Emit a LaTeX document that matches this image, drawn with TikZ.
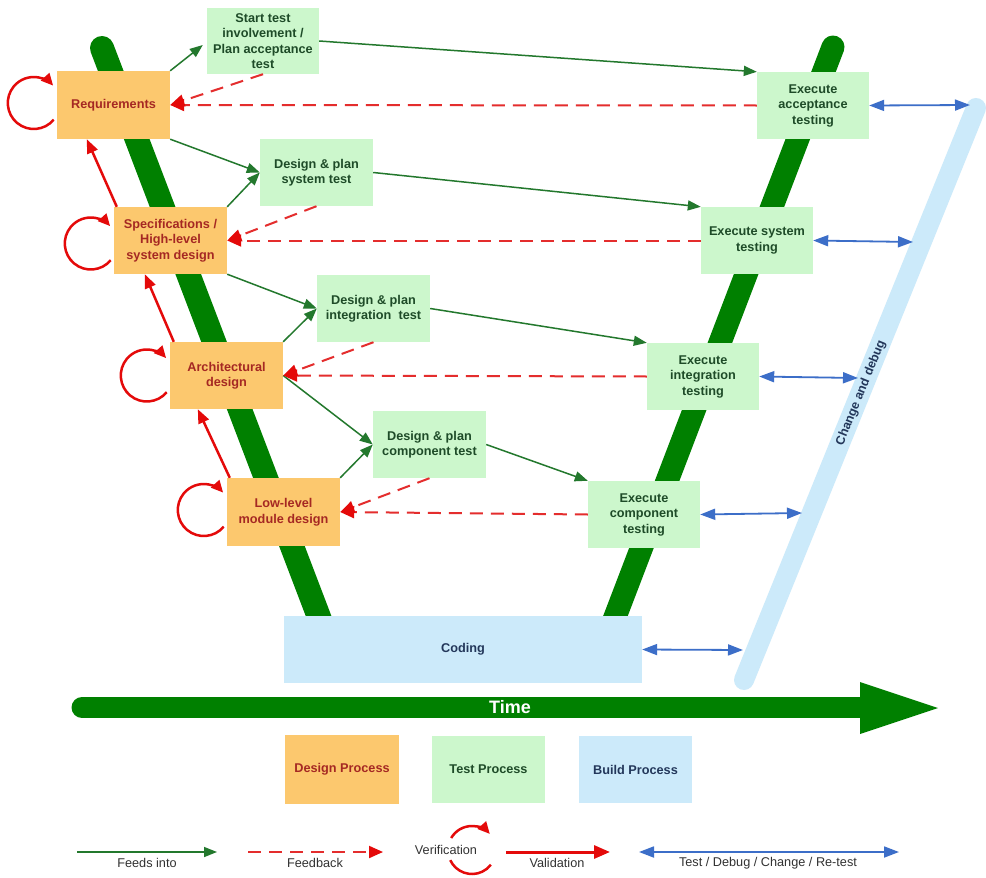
\documentclass[tikz,border=0pt]{standalone}
\usepackage{fontspec}
\setmainfont{Liberation Sans}
\usetikzlibrary{arrows.meta}
\definecolor{dfill}{RGB}{252,200,110}
\definecolor{dtext}{RGB}{165,40,35}
\definecolor{tfill}{RGB}{204,247,204}
\definecolor{ttext}{RGB}{30,75,40}
\definecolor{bfill}{RGB}{204,234,250}
\definecolor{btext}{RGB}{35,55,90}
\definecolor{vgreen}{RGB}{0,128,0}
\definecolor{agreen}{RGB}{35,120,45}
\definecolor{fbred}{RGB}{228,45,45}
\definecolor{vred}{RGB}{228,10,10}
\definecolor{ablue}{RGB}{60,110,200}
\definecolor{lgray}{RGB}{50,50,50}
\begin{document}
\begin{tikzpicture}[x=1pt,y=-1pt,
  box/.style={minimum width=113pt,minimum height=67pt,inner sep=0pt,align=center,
    font=\fontsize{12.7}{15.5}\selectfont\bfseries},
  dbox/.style={box,fill=dfill,text=dtext},
  tbox/.style={box,fill=tfill,text=ttext},
  bbox/.style={box,fill=bfill,text=btext},
  feed/.style={draw=agreen,line width=1.5pt,-{Triangle[length=13pt,width=10pt]}},
  fb/.style={draw=fbred,line width=2pt,dash pattern=on 13pt off 8pt,-{Triangle[length=14pt,width=12pt,color=vred,fill=vred]}},
  valid/.style={draw=vred,line width=2.5pt,-{Triangle[length=14pt,width=11pt]}},
  verif/.style={draw=vred,line width=2.5pt,-{Triangle[length=12pt,width=11pt]}},
  tdbg/.style={draw=ablue,line width=1.8pt,{Triangle[length=15pt,width=11pt]}-{Triangle[length=15pt,width=11pt]}},
  leglab/.style={text=lgray,font=\fontsize{12.7}{14}\selectfont,inner sep=0pt}
]
\useasboundingbox (0,0) rectangle (986,878);
\fill[white] (0,0) rectangle (986,878);

% V arms and change bar
\draw[vgreen,line width=24pt,line cap=round] (102,48) -- (322,625);
\draw[vgreen,line width=23pt,line cap=round] (833,47) -- (612,625);
\draw[bfill,line width=20pt,line cap=round] (976,108) -- (744,680);
\node[rotate=67.9,text=btext,font=\fontsize{12.5}{14}\selectfont\bfseries,inner sep=0pt] (cdtxt) at (861,393) {Change and debug};

% Time arrow
\draw[vgreen,line width=21pt,line cap=round] (82,707.5) -- (865,707.5);
\fill[vgreen] (860,682) -- (938,708) -- (860,734) -- cycle;
\node[text=white,font=\fontsize{18}{20}\selectfont\bfseries] (time) at (510,707) {Time};

% Design boxes
\node[dbox,minimum height=68pt] (req) at (113.5,105) {Requirements};
\node[dbox] (spec) at (170.5,240.5) {Specifications /\\High-level\\system design};
\node[dbox] (arch) at (226.5,375.5) {Architectural\\design};
\node[dbox,minimum height=68pt] (low) at (283.5,512) {Low-level\\module design};

% Test planning boxes
\node[tbox,minimum width=112pt,minimum height=66pt] (start) at (263,41) {Start test\\involvement /\\Plan acceptance\\test};
\node[tbox] (dsys) at (316.5,172.5) {Design \& plan\\system test};
\node[tbox] (dint) at (373.5,308.5) {Design \& plan\\integration\ \ test};
\node[tbox] (dcomp) at (429.5,444.5) {Design \& plan\\component test};

% Execute boxes
\node[tbox,minimum width=112pt] (eacc) at (813,105.5) {Execute\\acceptance\\testing};
\node[tbox,minimum width=112pt] (esys) at (757,240.5) {Execute system\\testing};
\node[tbox,minimum width=112pt] (eint) at (703,376.5) {Execute\\integration\\testing};
\node[tbox,minimum width=112pt] (ecomp) at (644,514.5) {Execute\\component\\testing};

% Coding
\node[bbox,minimum width=358pt] (coding) at (463,649.5) {Coding};

% Feeds into
\draw[feed] (req.north east) -- ([xshift=-4pt,yshift=-4pt]start.west);
\draw[feed] (start.east) -- (eacc.north west);
\draw[feed] (req.south east) -- (dsys.west);
\draw[feed] (spec.north east) -- (dsys.west);
\draw[feed] (dsys.east) -- (esys.north west);
\draw[feed] (spec.south east) -- (dint.west);
\draw[feed] (arch.north east) -- (dint.west);
\draw[feed] (dint.east) -- (eint.north west);
\draw[feed] (arch.east) -- (dcomp.west);
\draw[feed] (low.north east) -- (dcomp.west);
\draw[feed] (dcomp.east) -- (ecomp.north west);

% Feedback
\draw[fb] (eacc.west) -- (req.east);
\draw[fb] (start.south) -- (req.east);
\draw[fb] (esys.west) -- (spec.east);
\draw[fb] (dsys.south) -- (spec.east);
\draw[fb] (eint.west) -- (arch.east);
\draw[fb] (dint.south) -- (arch.east);
\draw[fb] (ecomp.west) -- (low.east);
\draw[fb] (dcomp.south) -- (low.east);

% Validation
\draw[valid] ([xshift=3pt]spec.north west) -- ([xshift=30pt]req.south west);
\draw[valid] ([xshift=4pt]arch.north west) -- ([xshift=31pt]spec.south west);
\draw[valid] ([xshift=3pt]low.north west) -- ([xshift=28pt]arch.south west);

% Verification loops
\draw[verif] ([xshift=-23pt,yshift=2pt]req.west) ++(-40:26pt) arc[start angle=-40,end angle=-318,radius=26pt];
\draw[verif] ([xshift=-23pt,yshift=-3pt]spec.west) ++(-40:26pt) arc[start angle=-40,end angle=-318,radius=26pt];
\draw[verif] ([xshift=-23pt]arch.west) ++(-40:26pt) arc[start angle=-40,end angle=-318,radius=26pt];
\draw[verif] ([xshift=-23pt,yshift=2pt]low.west) ++(-40:26pt) arc[start angle=-40,end angle=-318,radius=26pt];

% Test / debug arrows to change bar
\coordinate (c1) at (970,105);
\coordinate (c2) at (913,242);
\coordinate (c3) at (858,378);
\coordinate (c4) at (802,513);
\coordinate (c5) at (743,650);
\draw[tdbg] (eacc.east) -- (c1);
\draw[tdbg] (esys.east) -- (c2);
\draw[tdbg] (eint.east) -- (c3);
\draw[tdbg] (ecomp.east) -- (c4);
\draw[tdbg] (coding.east) -- (c5);

% Legend boxes
\node[dbox,minimum width=114pt,minimum height=69pt] (ldes) at (342,769.5) {Design Process};
\node[tbox] (ltest) at (488.5,769.5) {Test Process};
\node[bbox] (lbuild) at (635.5,769.5) {Build Process};

% Legend arrows
\coordinate (la1) at (77,852);  \coordinate (lb1) at (217,852);
\coordinate (la2) at (248,852); \coordinate (lb2) at (383,852);
\coordinate (la3) at (506,852); \coordinate (lb3) at (610,852);
\coordinate (la4) at (639,852); \coordinate (lb4) at (899,852);
\draw[feed] (la1) -- (lb1);
\draw[fb] (la2) -- (lb2);
\draw[valid,line width=3pt,-{Triangle[length=16pt,width=13pt]}] (la3) -- (lb3);
\draw[tdbg] (la4) -- (lb4);
\node[leglab] (lt1) at (147,863) {Feeds into};
\node[leglab] (lt2) at (315,863) {Feedback};
\node[leglab] (lt3) at (557,863) {Validation};
\node[leglab] (lt4) at (768,863) {Test / Debug / Change / Re-test};
\coordinate (vc) at (472,850);
\draw[verif] (vc) ++(150:24pt) arc[start angle=150,end angle=42,radius=24pt];
\draw[vred,line width=2.5pt] (vc) ++(205:24pt) arc[start angle=205,end angle=322,radius=24pt];
\node[leglab,fill=white,inner sep=1pt] (lver) at (446,850) {Verification};
\end{tikzpicture}
\end{document}
